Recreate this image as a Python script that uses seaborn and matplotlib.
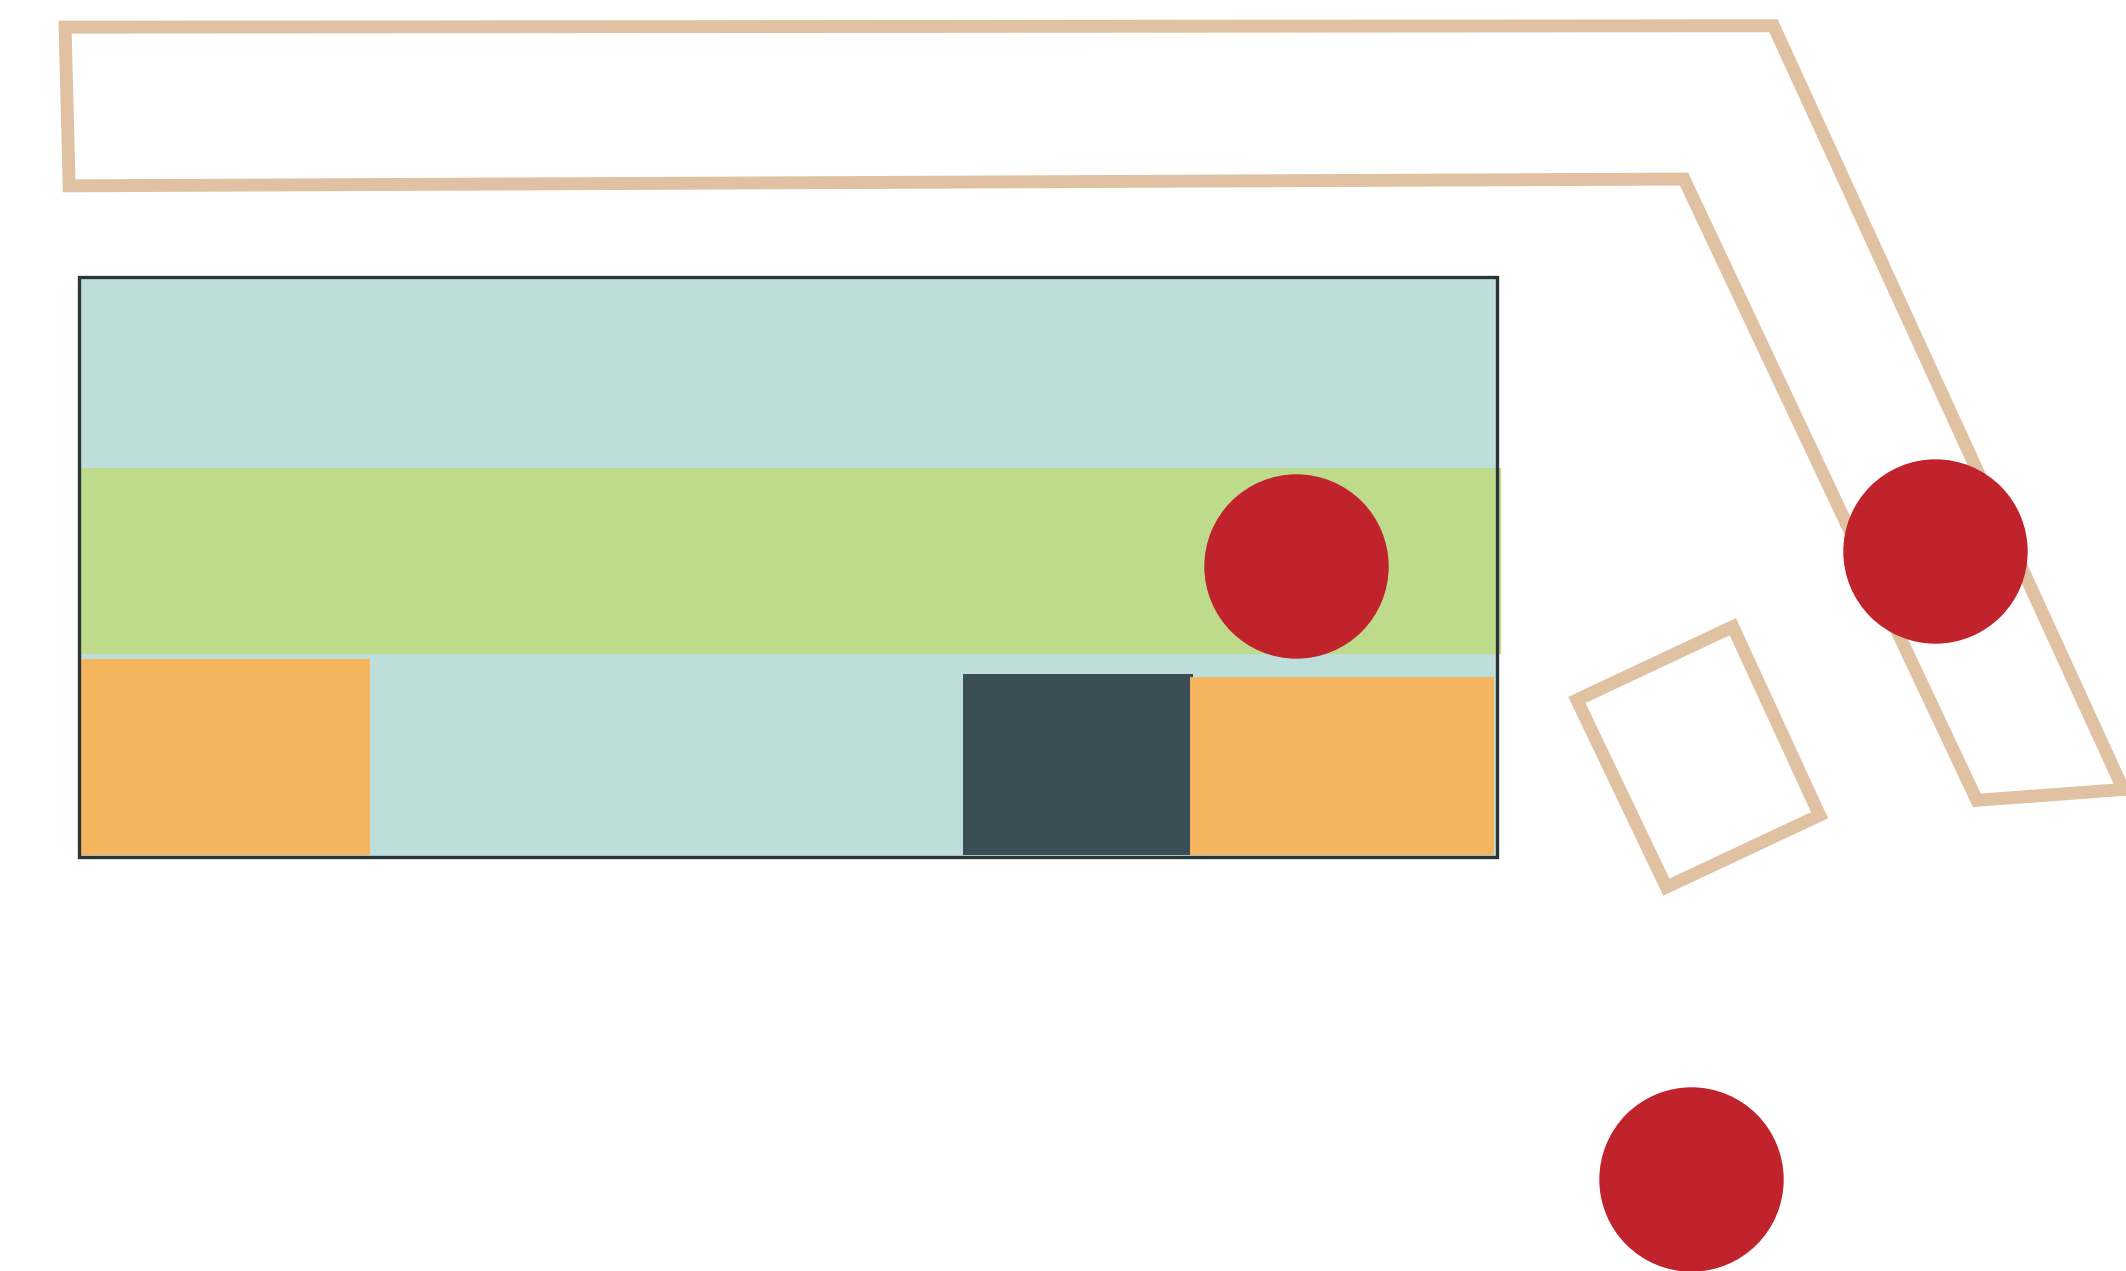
import numpy as np
import pandas as pd
import matplotlib
matplotlib.use('Agg')
import matplotlib.pyplot as plt
import seaborn as sns

# canvas units (reference at 1568 x 937)
W, H = 1568, 937
scale = 2126 / W

# colours
tan = '#E0C1A1'
teal = '#BEDEDC'
green = '#BEDB8C'
orange = '#F5B45E'
slate = '#3C4E55'
red = '#C0232B'

# outer band (L shaped path) and the small tilted box
band_x = [48, 1308, 1566, 1458, 1242, 51]
band_y = [20, 19, 582, 590, 132, 137]
box_x = [1163, 1278, 1342, 1229]
box_y = [516, 462, 601, 654]

# big rectangle and the blocks inside it: x0, x1, y0, y1
frame = [58, 1104, 204, 632]
blocks = pd.DataFrame({
    'name': ['sky', 'stripe', 'left', 'dark', 'right'],
    'x0': [58, 58, 60, 710, 878],
    'x1': [1104, 1107, 273, 880, 1102],
    'y0': [204, 345, 486, 497, 499],
    'y1': [632, 482, 630, 630, 630],
    'color': [teal, green, orange, slate, orange],
})

# red dots
dot_x = [956, 1427, 1247]
dot_y = [417, 406, 869]
dot_r = 68

sns.set_style('white')
fig = plt.figure(figsize=(21.26, 12.71), dpi=100)
ax = fig.add_axes([0, 0, 1, 1])
ax.set_xlim(0, W)
ax.set_ylim(H, 0)
ax.axis('off')

# blocks
for _, b in blocks.iterrows():
    ax.fill([b.x0, b.x1, b.x1, b.x0], [b.y0, b.y0, b.y1, b.y1],
            color=b.color, linewidth=0, zorder=1)

# frame outline
fx0, fx1, fy0, fy1 = frame
ax.fill([fx0, fx1, fx1, fx0], [fy0, fy0, fy1, fy1], fill=False,
        edgecolor='#2B3538', linewidth=2.4, zorder=2)

# tan outlines (closed, so the corners join cleanly)
lw = 9.5 * scale * 72 / 100
ax.fill(band_x, band_y, fill=False, edgecolor=tan, linewidth=lw,
        joinstyle='miter', zorder=3)
ax.fill(box_x, box_y, fill=False, edgecolor=tan, linewidth=lw,
        joinstyle='miter', zorder=3)

# dots, size in points^2 from the radius
d_pt = 2 * dot_r * scale * 72 / 100
sns.scatterplot(x=dot_x, y=dot_y, s=d_pt ** 2, color=red, linewidth=0,
                ax=ax, zorder=4, legend=False)

fig.savefig('out.png', dpi=100)
